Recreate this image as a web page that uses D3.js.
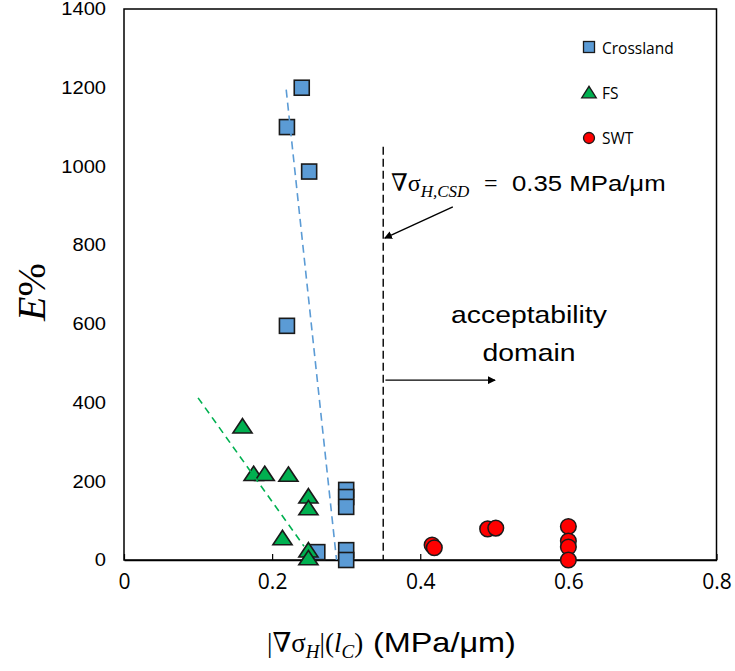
<!DOCTYPE html>
<html>
<head>
<meta charset="utf-8">
<script src="https://cdn.jsdelivr.net/npm/d3@7"></script>
<style>
  body { margin: 0; background: #fff; }
  svg { display: block; }
</style>
</head>
<body>
<svg id="chart" width="735" height="671"></svg>
<script>
// data
const crossX = [0.24, 0.22, 0.25, 0.22, 0.261, 0.30, 0.30, 0.30, 0.30, 0.30];
const crossY = [1200, 1100, 987, 595, 20, 178, 160, 135, 25, 0];
const fsX = [0.16, 0.175, 0.19, 0.222, 0.249, 0.249, 0.214, 0.249, 0.249];
const fsY = [335, 214, 214, 212, 157, 127, 51, 20, 0];
const swtX = [0.416, 0.419, 0.491, 0.502, 0.60, 0.60, 0.60, 0.60];
const swtY = [38, 31, 79, 81, 85, 48, 33, 0];
const crossTrend = [[0.219, 1195], [0.287, 0]];
const fsTrend = [[0.10, 412], [0.243, 35]];
const xTicks = [0, 0.2, 0.4, 0.6, 0.8];
const yTicks = [0, 200, 400, 600, 800, 1000, 1200, 1400];
const csdX = 0.35;
const csdTop = 1050;

const W = 735, H = 671;
const margin = {top: 9, right: 18.5, bottom: 111, left: 124};
const svg = d3.select('#chart');

const x = d3.scaleLinear().domain([0, 0.8]).range([margin.left, W - margin.right]);
const y = d3.scaleLinear().domain([0, 1400]).range([H - margin.bottom, margin.top]);

const blue = '#5B9BD5', green = '#00B050', red = '#FF0000';
const edge = '#1a1a1a';
const sans = 'Liberation Sans, Arial, sans-serif';
const serif = 'Liberation Serif, DejaVu Serif, serif';

// arrow marker
svg.append('defs').append('marker')
  .attr('id', 'arr')
  .attr('viewBox', '0 0 10 10')
  .attr('refX', 9).attr('refY', 5)
  .attr('markerWidth', 8).attr('markerHeight', 8)
  .attr('markerUnits', 'userSpaceOnUse')
  .attr('orient', 'auto')
  .append('path').attr('d', 'M0,0 L10,5 L0,10 z').attr('fill', '#000');

// frame
svg.append('rect')
  .attr('x', x(0)).attr('y', y(1400))
  .attr('width', x(0.8) - x(0)).attr('height', y(0) - y(1400))
  .attr('fill', 'none').attr('stroke', '#000').attr('stroke-width', 1.5);

// axes
const xAxis = d3.axisBottom(x).tickValues(xTicks).tickSizeInner(-6).tickSizeOuter(0)
  .tickPadding(14).tickFormat(d => d === 0 ? '0' : d3.format('.1f')(d));
const xg = svg.append('g').attr('transform', `translate(0,${y(0)})`).call(xAxis);
xg.select('.domain').attr('stroke', '#000').attr('stroke-width', 1.5);
xg.selectAll('.tick line').attr('stroke', '#000').attr('stroke-width', 1.2);
xg.selectAll('.tick text').attr('font-family', 'Open Sans, sans-serif').attr('font-size', 21).attr('fill', '#000');

const yAxis = d3.axisLeft(y).tickValues(yTicks).tickSize(0).tickPadding(18).tickFormat(d3.format('d'));
const yg = svg.append('g').attr('transform', `translate(${x(0)},0)`).call(yAxis);
yg.select('.domain').remove();
yg.selectAll('.tick text').attr('font-family', sans).attr('font-size', 18).attr('fill', '#000')
  .attr('transform', 'scale(1.12,1)')
  .attr('x', -16);

// markers
const sq = 15, tri = d3.symbol().type(d3.symbolTriangle).size(120)();
const triLeg = d3.symbol().type(d3.symbolTriangle).size(75)();

svg.append('g').selectAll('rect').data(crossX.map((d, i) => [d, crossY[i]])).join('rect')
  .attr('x', d => x(d[0]) - sq / 2).attr('y', d => y(d[1]) - sq / 2)
  .attr('width', sq).attr('height', sq)
  .attr('fill', blue).attr('stroke', edge).attr('stroke-width', 1.6);

svg.append('g').selectAll('path').data(fsX.map((d, i) => [d, fsY[i]])).join('path')
  .attr('d', tri).attr('transform', d => `translate(${x(d[0])},${y(d[1])}) scale(1.15,1)`)
  .attr('fill', green).attr('stroke', edge).attr('stroke-width', 1.5);

svg.append('g').selectAll('circle').data(swtX.map((d, i) => [d, swtY[i]])).join('circle')
  .attr('cx', d => x(d[0])).attr('cy', d => y(d[1])).attr('r', 7.8)
  .attr('fill', red).attr('stroke', edge).attr('stroke-width', 1.5);

// trend lines
const line = d3.line().x(d => x(d[0])).y(d => y(d[1]));
svg.append('path').attr('d', line(crossTrend)).attr('fill', 'none')
  .attr('stroke', blue).attr('stroke-width', 1.6).attr('stroke-dasharray', '8,5');
svg.append('path').attr('d', line(fsTrend)).attr('fill', 'none')
  .attr('stroke', green).attr('stroke-width', 1.6).attr('stroke-dasharray', '7,5');

// critical gradient line
svg.append('line')
  .attr('x1', x(csdX)).attr('x2', x(csdX)).attr('y1', y(csdTop)).attr('y2', y(0))
  .attr('stroke', '#000').attr('stroke-width', 1.4).attr('stroke-dasharray', '8,4');

svg.append('line')
  .attr('x1', x(0.444)).attr('y1', y(897)).attr('x2', x(0.352)).attr('y2', y(818))
  .attr('stroke', '#000').attr('stroke-width', 1.4).attr('marker-end', 'url(#arr)');

svg.append('line')
  .attr('x1', x(0.353)).attr('y1', y(457)).attr('x2', x(0.501)).attr('y2', y(457))
  .attr('stroke', '#000').attr('stroke-width', 1.4).attr('marker-end', 'url(#arr)');

// annotation
const ann = svg.append('text').attr('x', 391).attr('y', 191)
  .attr('font-family', serif).attr('font-size', 24).attr('fill', '#000');
ann.append('tspan').attr('font-style', 'italic').text('∇');
ann.append('tspan').text('σ');
ann.append('tspan').attr('font-style', 'italic').attr('font-size', 17).attr('dy', 6).text('H,CSD');
svg.append('text').attr('x', 484).attr('y', 191)
  .attr('font-family', serif).attr('font-size', 24).attr('fill', '#000').text('=');
svg.append('text').attr('transform', 'translate(512,191) scale(1.12,1)')
  .attr('font-family', sans).attr('font-size', 23).attr('fill', '#000')
  .text('0.35 MPa/μm');

const acc = svg.append('text').attr('font-family', sans).attr('font-size', 24)
  .attr('fill', '#000').attr('text-anchor', 'middle')
  .attr('transform', 'translate(529,0) scale(1.18,1)');
acc.append('tspan').attr('x', 0).attr('y', 323).text('acceptability');
acc.append('tspan').attr('x', 0).attr('y', 361).text('domain');

// legend
const legend = svg.append('g');
legend.append('rect').attr('x', 589 - 5.5).attr('y', 47 - 5.5).attr('width', 11).attr('height', 11)
  .attr('fill', blue).attr('stroke', edge).attr('stroke-width', 1.3);
legend.append('path').attr('d', triLeg).attr('transform', 'translate(589,94) scale(1.1,1)')
  .attr('fill', green).attr('stroke', edge).attr('stroke-width', 1.3);
legend.append('circle').attr('cx', 589).attr('cy', 138).attr('r', 5.5)
  .attr('fill', red).attr('stroke', edge).attr('stroke-width', 1.3);
[['Crossland', 54], ['FS', 99], ['SWT', 144]].forEach(([t, yy]) => {
  legend.append('text').attr('x', 602).attr('y', yy)
    .attr('font-family', 'Open Sans, sans-serif').attr('font-size', 15.5).attr('fill', '#000').text(t);
});

// axis titles
const xt = svg.append('text').attr('font-family', serif).attr('font-size', 27).attr('fill', '#000')
  .attr('x', 267).attr('y', 652);
xt.append('tspan').text('|');
xt.append('tspan').attr('font-style', 'italic').text('∇');
xt.append('tspan').text('σ');
xt.append('tspan').attr('font-style', 'italic').attr('font-size', 19).attr('dy', 6).text('H');
xt.append('tspan').attr('dy', -6).text('|(');
xt.append('tspan').attr('font-style', 'italic').text('l');
xt.append('tspan').attr('font-style', 'italic').attr('font-size', 19).attr('dy', 6).text('C');
xt.append('tspan').attr('dy', -6).text(')');
svg.append('text').attr('font-family', sans).attr('font-size', 27).attr('fill', '#000')
  .attr('transform', 'translate(373,652) scale(1.2,1)').text('(MPa/μm)');

const yt = svg.append('text').attr('font-family', serif).attr('font-size', 40).attr('fill', '#000')
  .attr('text-anchor', 'middle').attr('transform', 'translate(45,292) rotate(-90)');
yt.append('tspan').attr('font-style', 'italic').text('E');
yt.append('tspan').text('%');
</script>
</body>
</html>
